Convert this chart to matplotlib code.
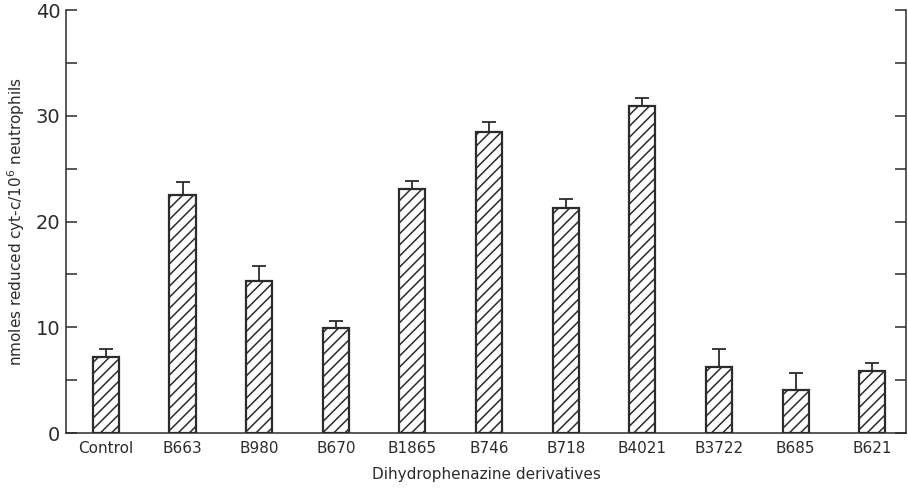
import numpy as np
import matplotlib
matplotlib.use("Agg")
import matplotlib.pyplot as plt
from matplotlib.ticker import MultipleLocator

# data
compounds = ['Control', 'B663', 'B980', 'B670', 'B1865', 'B746',
             'B718', 'B4021', 'B3722', 'B685', 'B621']
means = [7.2, 22.5, 14.4, 9.9, 23.1, 28.5, 21.3, 30.9, 6.2, 4.1, 5.9]
errors = [0.7, 1.2, 1.4, 0.7, 0.7, 0.9, 0.8, 0.8, 1.7, 1.6, 0.7]

INK = '#2b2b2b'
plt.rcParams['hatch.linewidth'] = 1.1
plt.rcParams['hatch.color'] = INK

fig = plt.figure(figsize=(9.08, 4.88), dpi=100)
ax = fig.add_axes([0.0727, 0.1127, 0.9251, 0.8668])

x = np.arange(len(compounds))
ax.bar(x, means, width=0.34, color='white', edgecolor=INK,
       linewidth=1.6, hatch='///', zorder=2)
ax.errorbar(x, means, yerr=[np.zeros(len(errors)), errors], fmt='none',
            ecolor=INK, elinewidth=1.3, capsize=5, capthick=1.3, zorder=3)

ax.set_xlim(-0.52, 10.44)
ax.set_ylim(0, 40)
ax.set_xticks(x)
ax.set_xticklabels(compounds, fontsize=11, color=INK)
ax.tick_params(axis='x', length=0, pad=6)

ax.yaxis.set_major_locator(MultipleLocator(10))
ax.yaxis.set_minor_locator(MultipleLocator(5))
ax.tick_params(axis='y', which='both', direction='in', length=8,
               width=1.1, color=INK, labelsize=14, labelcolor=INK,
               right=True, pad=4)

for side in ['left', 'bottom', 'right']:
    ax.spines[side].set_color(INK)
    ax.spines[side].set_linewidth(1.1)
ax.spines['top'].set_visible(False)

ax.set_xlabel('Dihydrophenazine derivatives', fontsize=11, color=INK, labelpad=8)
ax.set_ylabel('nmoles reduced cyt-c/10$^6$ neutrophils', fontsize=11,
              color=INK, labelpad=6)

fig.savefig('out.png', dpi=100)
